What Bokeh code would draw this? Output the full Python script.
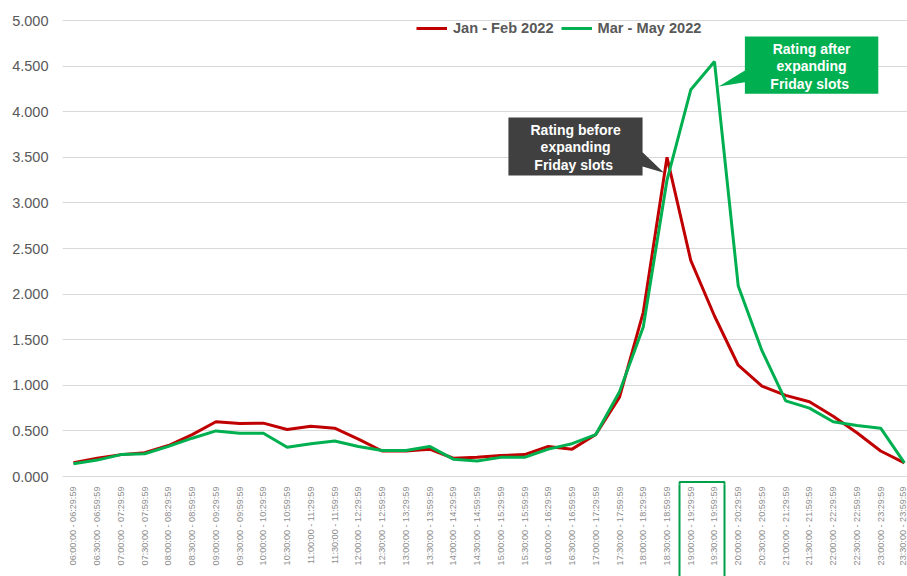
import math
from bokeh.plotting import figure
from bokeh.models import (Range1d, FixedTicker, NumeralTickFormatter, Legend, LegendItem,
                          Label, PolyAnnotation, BoxAnnotation)
from bokeh.embed import file_html
from bokeh.resources import INLINE

# ---------------- data ----------------
slots = [
    "06:00:00 - 06:29:59", "06:30:00 - 06:59:59", "07:00:00 - 07:29:59", "07:30:00 - 07:59:59",
    "08:00:00 - 08:29:59", "08:30:00 - 08:59:59", "09:00:00 - 09:29:59", "09:30:00 - 09:59:59",
    "10:00:00 - 10:29:59", "10:30:00 - 10:59:59", "11:00:00 - 11:29:59", "11:30:00 - 11:59:59",
    "12:00:00 - 12:29:59", "12:30:00 - 12:59:59", "13:00:00 - 13:29:59", "13:30:00 - 13:59:59",
    "14:00:00 - 14:29:59", "14:30:00 - 14:59:59", "15:00:00 - 15:29:59", "15:30:00 - 15:59:59",
    "16:00:00 - 16:29:59", "16:30:00 - 16:59:59", "17:00:00 - 17:29:59", "17:30:00 - 17:59:59",
    "18:00:00 - 18:29:59", "18:30:00 - 18:59:59", "19:00:00 - 19:29:59", "19:30:00 - 19:59:59",
    "20:00:00 - 20:29:59", "20:30:00 - 20:59:59", "21:00:00 - 21:29:59", "21:30:00 - 21:59:59",
    "22:00:00 - 22:29:59", "22:30:00 - 22:59:59", "23:00:00 - 23:29:59", "23:30:00 - 23:59:59",
]

jan_feb_2022 = [0.15, 0.20, 0.24, 0.26, 0.34, 0.46, 0.60, 0.58, 0.585, 0.515, 0.55, 0.53,
                0.41, 0.28, 0.28, 0.30, 0.20, 0.21, 0.23, 0.24, 0.33, 0.30, 0.46, 0.87,
                1.80, 3.50, 2.37, 1.76, 1.22, 0.99, 0.89, 0.82, 0.66, 0.48, 0.28, 0.15]

mar_may_2022 = [0.14, 0.18, 0.24, 0.25, 0.33, 0.42, 0.50, 0.475, 0.475, 0.32, 0.36, 0.39,
                0.33, 0.285, 0.285, 0.33, 0.19, 0.17, 0.21, 0.21, 0.30, 0.36, 0.46, 0.93,
                1.64, 3.25, 4.24, 4.55, 2.09, 1.38, 0.83, 0.75, 0.60, 0.56, 0.53, 0.15]

series_names = ["Jan - Feb 2022", "Mar - May 2022"]
y_ticks = [0.0, 0.5, 1.0, 1.5, 2.0, 2.5, 3.0, 3.5, 4.0, 4.5, 5.0]
highlighted_slots = ["19:00:00 - 19:29:59", "19:30:00 - 19:59:59"]

# ---------------- styles ----------------
FONT = "Liberation Sans"
RED = "#C00000"
GREEN = "#00B050"
HL_GREEN = "#00A04A"
GRAY_TXT = "#595959"

x_idx = list(range(len(slots)))

p = figure(width=907, height=576,
           x_range=Range1d(-0.463, 35.13), y_range=Range1d(-0.0876, 5.022),
           output_backend="svg", toolbar_location=None,
           min_border_left=62, min_border_right=0, min_border_top=18, min_border_bottom=92)
p.outline_line_color = None
p.xgrid.grid_line_color = None
p.ygrid.grid_line_color = "#d9d9d9"
p.ygrid.grid_line_width = 1.2

# highlight frame around the 19:00-20:00 tick labels
hl_lo = slots.index(highlighted_slots[0]) - 0.47
hl_hi = slots.index(highlighted_slots[-1]) + 0.42
HL_LEN = 100

# axes
p.yaxis.ticker = FixedTicker(ticks=y_ticks)
p.yaxis.formatter = NumeralTickFormatter(format="0.000")
p.yaxis.axis_line_color = None
p.yaxis.major_tick_line_color = None
p.yaxis.minor_tick_line_color = None
p.yaxis.major_tick_out = 0
p.yaxis.major_label_text_font = FONT
p.yaxis.major_label_text_font_size = "14.5px"
p.yaxis.major_label_text_color = GRAY_TXT
p.yaxis.major_label_standoff = 14

p.xaxis.ticker = FixedTicker(ticks=x_idx, minor_ticks=[hl_lo, hl_hi])
p.xaxis.major_label_overrides = {i: s for i, s in enumerate(slots)}
p.xaxis.major_label_orientation = math.pi / 2
p.xaxis.axis_line_color = None
p.xaxis.major_tick_line_color = None
p.xaxis.major_tick_out = 0
p.xaxis.major_tick_in = 0
p.xaxis.minor_tick_line_color = HL_GREEN
p.xaxis.minor_tick_line_width = 2
p.xaxis.minor_tick_out = HL_LEN
p.xaxis.minor_tick_in = 0
p.xaxis.major_label_text_font = FONT
p.xaxis.major_label_text_font_size = "9.1px"
p.xaxis.major_label_text_color = "#8c8c8c"
p.xaxis.major_label_standoff = 2 - HL_LEN

p.add_layout(BoxAnnotation(left=hl_lo, right=hl_hi, top=-0.06, bottom=-1.0,
                           fill_alpha=0, line_color=HL_GREEN, line_alpha=1,
                           line_width=2))

# lines
r1 = p.line(x_idx, jan_feb_2022, line_color=RED, line_width=3)
r2 = p.line(x_idx, mar_may_2022, line_color=GREEN, line_width=3)

legend = Legend(items=[LegendItem(label=series_names[0], renderers=[r1]),
                       LegendItem(label=series_names[1], renderers=[r2])],
                orientation="horizontal", location=(354, 448),
                label_text_font=FONT, label_text_font_size="14.6px",
                label_text_font_style="bold", label_text_color=GRAY_TXT,
                glyph_width=31, glyph_height=16, label_standoff=6, spacing=7,
                padding=2, margin=0, border_line_color=None,
                background_fill_alpha=0)
p.add_layout(legend)

# callout: before
before_xs = [18.32, 23.97, 23.97, 24.87, 23.97, 23.97, 18.32]
before_ys = [3.936, 3.936, 3.556, 3.33, 3.40, 3.30, 3.30]
p.add_layout(PolyAnnotation(xs=before_xs, ys=before_ys, fill_color="#404040",
                            fill_alpha=1, line_color=None))
for txt, off in [("Rating before", 17.5), ("expanding", 0), ("Friday  slots", -17.5)]:
    p.add_layout(Label(x=21.15, y=3.611, y_offset=off, text=txt,
                       text_align="center", text_baseline="middle",
                       text_font=FONT, text_font_size="14px", text_font_style="bold",
                       text_color="white"))

# callout: after
after_xs = [28.28, 33.90, 33.90, 28.28, 28.28, 27.18, 28.28]
after_ys = [4.825, 4.825, 4.196, 4.196, 4.323, 4.276, 4.452]
p.add_layout(PolyAnnotation(xs=after_xs, ys=after_ys, fill_color=GREEN,
                            fill_alpha=1, line_color=None))
for txt, off in [("Rating after", 17.5), ("expanding", 0), ("Friday  slots", -17.5)]:
    p.add_layout(Label(x=31.09, y=4.496, y_offset=off, text=txt,
                       text_align="center", text_baseline="middle",
                       text_font=FONT, text_font_size="14px", text_font_style="bold",
                       text_color="white"))

html = file_html(p, INLINE, title="Ratings by time slot")
open("out.html", "w").write(html)
